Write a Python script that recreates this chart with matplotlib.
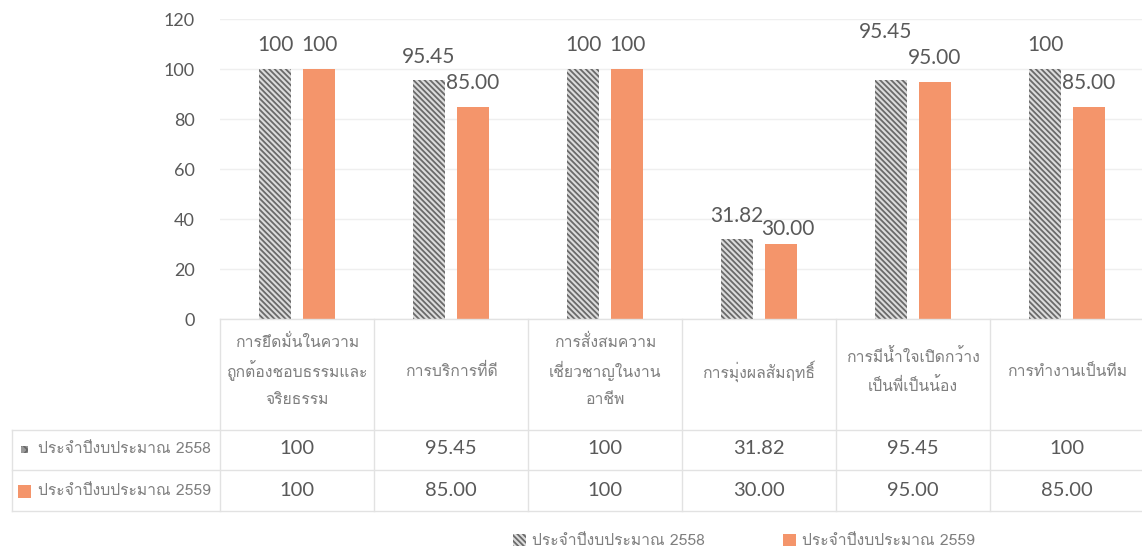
import matplotlib
matplotlib.use("Agg")
import matplotlib.pyplot as plt
from matplotlib import font_manager
from matplotlib.ft2font import FT2Font
from matplotlib.patches import Rectangle
from matplotlib.transforms import blended_transform_factory

# ---- data ----
categories = [
    "การยึดมั่นในความ\nถูกต้องชอบธรรมและ\nจริยธรรม",
    "การบริการที่ดี",
    "การสั่งสมความ\nเชี่ยวชาญในงาน\nอาชีพ",
    "การมุ่งผลสัมฤทธิ์",
    "การมีน้ำใจเปิดกว้าง\nเป็นพี่เป็นน้อง",
    "การทำงานเป็นทีม",
]
series_names = ["ประจำปีงบประมาณ 2558", "ประจำปีงบประมาณ 2559"]
values_2558 = [100, 95.45, 100, 31.82, 95.45, 100]
values_2559 = [100, 85.00, 100, 30.00, 95.00, 85.00]
yticks = [0, 20, 40, 60, 80, 100, 120]

# ---- style ----
W, H = 1142, 553
GRAY_FACE = "#dcdcdc"
GRAY_EDGE = "#6a6a6a"
ORANGE = "#F4956B"
TEXT = "#595959"
LIGHT_TEXT = "#7f7f7f"
GRID = "#efefef"
BORDER = "#e2e2e2"
BAR_W = 0.21
BAR_OFF = 0.143
LABEL_LIFT = 17          # points above bar top (text centre)
# Excel nudged these labels to avoid overlaps: (series, index) -> (dx, dy) pt
NUDGE = {(0, 4): (-4, 35), (1, 3): (5, 11)}
THAI_SIZE = 11.3


def find_thai_family():
    for f in font_manager.fontManager.ttflist:
        try:
            if 0x0E01 in FT2Font(f.fname).get_charmap():
                return f.name
        except Exception:
            pass
    return "DejaVu Sans"


THAI = find_thai_family()
NUM_FONT = ["Lato", THAI, "DejaVu Sans"]
THAI_FONT = [THAI, "DejaVu Sans"]

plt.rcParams["hatch.linewidth"] = 1.3


def fx(px):
    return px / W


def fy(py):
    return 1 - py / H


def fmt(v):
    return "100" if v == 100 else f"{v:.2f}"


fig = plt.figure(figsize=(W / 100, H / 100), dpi=100)
ax = fig.add_axes([fx(220), fy(319), fx(924), 300 / H])

x = list(range(len(categories)))
b1 = ax.bar([i - BAR_OFF for i in x], values_2558, BAR_W, facecolor=GRAY_FACE,
            edgecolor=GRAY_EDGE, hatch="\\" * 6, lw=0, label=series_names[0], zorder=2)
b2 = ax.bar([i + BAR_OFF for i in x], values_2559, BAR_W, color=ORANGE,
            lw=0, label=series_names[1], zorder=2)

for s, bars in enumerate((b1, b2)):
    for i, r in enumerate(bars):
        v = r.get_height()
        dx, dy = NUDGE.get((s, i), (0, LABEL_LIFT))
        ax.annotate(fmt(v), (r.get_x() + r.get_width() / 2, v),
                    xytext=(dx, dy), textcoords="offset points",
                    ha="center", va="center", fontsize=15, color=TEXT,
                    family=NUM_FONT, zorder=3)

ax.set_xlim(-0.5, len(categories) - 0.5)
ax.set_ylim(0, 120)
ax.set_yticks(yticks)
ax.set_xticks([])
ax.tick_params(axis="y", length=0, pad=18, labelsize=13, labelcolor=TEXT)
for lab in ax.get_yticklabels():
    lab.set_family(NUM_FONT)
ax.grid(axis="y", color=GRID, lw=1, zorder=0)
for sp in ax.spines.values():
    sp.set_visible(False)

# ---- data table under the chart ----
trans = blended_transform_factory(ax.transData, fig.transFigure)
header_y, header_step, row_y = 371, 29, [449, 491]
line_kw = dict(color=BORDER, lw=1, clip_on=False)

for i, cat in enumerate(categories):
    lines = cat.split("\n")
    top = header_y - header_step * (len(lines) - 1) / 2
    for k, ln in enumerate(lines):
        ax.text(i, fy(top + k * header_step), ln, transform=trans, ha="center",
                va="center", fontsize=THAI_SIZE, color=LIGHT_TEXT, family=THAI_FONT)
    for py, vals in zip(row_y, (values_2558, values_2559)):
        ax.text(i, fy(py), fmt(vals[i]), transform=trans, ha="center",
                va="center", fontsize=14.5, color=TEXT, family=NUM_FONT)

n = len(categories)
for k in range(n + 1):
    ax.plot([k - 0.5, k - 0.5], [fy(319), fy(511)], transform=trans, **line_kw)
ax.plot([-0.5, n - 0.5], [fy(319), fy(319)], transform=trans, **line_kw)
for py in (430, 470, 511):
    fig.add_artist(plt.Line2D([fx(12), 1], [fy(py), fy(py)], color=BORDER, lw=1))
fig.add_artist(plt.Line2D([fx(12), fx(12)], [fy(430), fy(511)], color=BORDER, lw=1))

# row labels with series keys (Excel shrinks the hatched key to a tiny cross)
key_sizes = (7, 13)
key_faces = ("#9a9a9a", ORANGE)
for py, name, ks, kf in zip(row_y, series_names, key_sizes, key_faces):
    fig.add_artist(Rectangle((fx(25 - ks / 2), fy(py) - ks / 2 / H), ks / W, ks / H,
                             transform=fig.transFigure, facecolor=kf,
                             edgecolor=GRAY_EDGE, hatch="xxx" if ks < 10 else None,
                             lw=0))
    fig.text(fx(38), fy(py), name, ha="left", va="center", fontsize=THAI_SIZE,
             color=LIGHT_TEXT, family=THAI_FONT)

fig.legend(handles=[b1, b2], loc="center", bbox_to_anchor=(fx(744), fy(541)),
           ncol=2, frameon=False, labelcolor=LIGHT_TEXT,
           handlelength=0.8, handleheight=0.8, handletextpad=0.4,
           columnspacing=5, prop={"family": THAI_FONT, "size": THAI_SIZE})

fig.savefig("out.png", dpi=100)
